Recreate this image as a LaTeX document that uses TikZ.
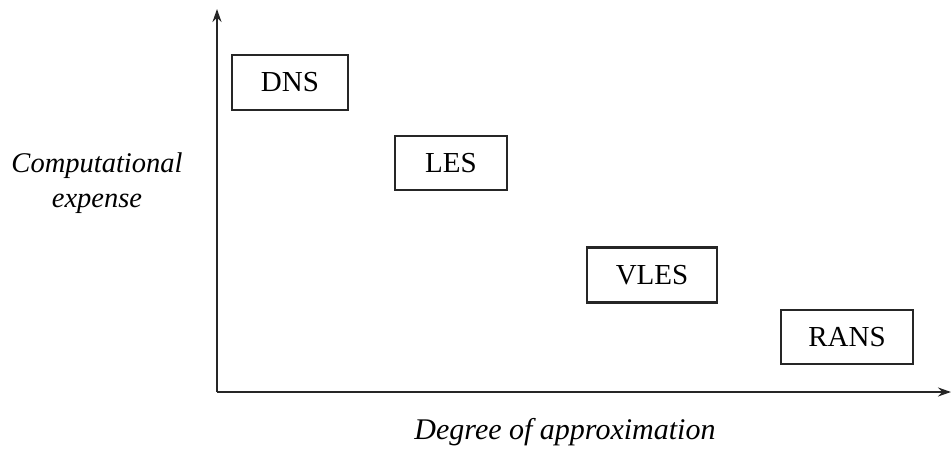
\documentclass[tikz,border=0pt]{standalone}
\usepackage{fontspec}
\setmainfont{Liberation Serif}
\usetikzlibrary{arrows.meta}
\begin{document}
\begin{tikzpicture}[x=1pt,y=-1pt,
  meth/.style={draw=black!85,line width=2.2pt,inner sep=0pt,font=\fontsize{29}{34}\selectfont},
  lab/.style={font=\fontsize{28.5}{35}\selectfont\itshape,align=center,inner sep=0pt},
  axis/.style={draw=black!85,line width=2.2pt,-{Stealth[length=13pt,width=9pt]}}]
\useasboundingbox (0,0) rectangle (952,452);
\coordinate (o) at (217,392);
\coordinate (ytop) at (217,9);
\coordinate (xend) at (951,392);
\draw[axis] (o) -- (ytop);
\draw[axis] (o) -- (xend);
\node[meth,minimum width=116pt,minimum height=55pt] (dns) at (290,82.5) {DNS};
\node[meth,minimum width=112pt,minimum height=54pt] (les) at (451,163) {LES};
\node[meth,minimum width=130pt,minimum height=55pt] (vles) at (652,275) {VLES};
\node[meth,minimum width=132pt,minimum height=54pt] (rans) at (847,337) {RANS};
\node[lab] (ylab) at (97,183) {Computational\\expense};
\node[lab,font=\fontsize{30}{35}\selectfont\itshape] (xlab) at (565,432) {Degree of approximation};
\end{tikzpicture}
\end{document}
